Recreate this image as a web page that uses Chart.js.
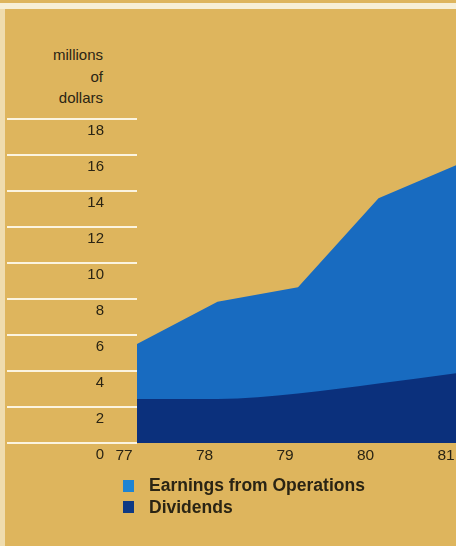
<!DOCTYPE html>
<html>
<head>
<meta charset="utf-8">
<script src="https://cdn.jsdelivr.net/npm/chart.js@4/dist/chart.umd.min.js"></script>
<style>
  html, body { margin: 0; padding: 0; }
  body { width: 456px; height: 546px; background: #deb55d; position: relative; overflow: hidden;
         font-family: "Liberation Sans", Arial, Helvetica, sans-serif; color: #2a2414; }
  #topstrip { position: absolute; left: 0; top: 3px; width: 456px; height: 6px; background: #f7efd6; }
  #leftstrip { position: absolute; left: 0; top: 9px; width: 5px; height: 537px; background: #efdcae; }
  #unit { position: absolute; right: 353px; top: 44px; text-align: right; font-size: 15px; line-height: 21.5px; }
  #c { position: absolute; left: 0; top: 0; }
  #legend { position: absolute; left: 123px; top: 475px; font-weight: bold; font-size: 17.5px; }
  #legend .item { display: flex; align-items: center; height: 21.5px; }
  #legend .box { width: 11px; height: 12px; margin-right: 15px; }
</style>
</head>
<body>
<div id="topstrip"></div>
<div id="leftstrip"></div>
<div id="unit">millions<br>of<br>dollars</div>
<canvas id="c" width="456" height="546"></canvas>
<div id="legend"></div>
<script>
// ---- data ----
const years = [77, 78, 79, 80, 81];
const yearLabels = ['77', '78', '79', '80', '81'];
const earnings = [5.5, 7.85, 8.65, 13.6, 15.5];
const dividends = [2.45, 2.45, 2.75, 3.3, 3.9];
const yTicks = [0, 2, 4, 6, 8, 10, 12, 14, 16, 18];

const seriesNames = ['Earnings from Operations', 'Dividends'];
const seriesColors = ['#186bc0', '#0b307c'];
const legendColors = ['#1f84d2', '#0f3a84'];

const toPts = (vals) => vals.map((v, i) => ({ x: years[i], y: v }));

const chart = new Chart(document.getElementById('c'), {
  type: 'line',
  data: {
    datasets: [
      {
        label: seriesNames[0],
        data: toPts(earnings),
        backgroundColor: seriesColors[0],
        borderWidth: 0,
        pointRadius: 0,
        fill: 'origin',
        tension: 0,
        order: 2
      },
      {
        label: seriesNames[1],
        data: toPts(dividends),
        backgroundColor: seriesColors[1],
        borderWidth: 0,
        pointRadius: 0,
        fill: 'origin',
        tension: 0.35,
        cubicInterpolationMode: 'monotone',
        order: 1
      }
    ]
  },
  options: {
    responsive: false,
    animation: false,
    layout: { padding: { top: 119, left: 0, right: 0, bottom: 0 } },
    plugins: { legend: { display: false }, tooltip: { enabled: false } },
    scales: {
      x: {
        type: 'linear',
        min: years[0],
        max: years[0] + (456 - 137) / 80.5,
        afterBuildTicks: (s) => { s.ticks = years.map(v => ({ value: v })); },
        afterFit: (s) => { s.height = 103; s.paddingLeft = 0; s.paddingRight = 0; },
        grid: { display: false, drawTicks: false },
        border: { display: false },
        ticks: {
          autoSkip: false,
          padding: 3,
          labelOffset: -13,
          color: '#2a2414',
          font: { family: '"Liberation Sans", Arial, sans-serif', size: 15.5 },
          callback: (v) => yearLabels[years.indexOf(v)]
        }
      },
      y: {
        min: 0,
        max: 18,
        afterBuildTicks: (s) => { s.ticks = yTicks.map(v => ({ value: v })); },
        afterFit: (s) => { s.width = 137; s.paddingTop = 0; s.paddingBottom = 0; },
        grid: {
          drawOnChartArea: false,
          drawTicks: true,
          tickLength: 130,
          color: '#fbf4e0',
          tickColor: '#fbf4e0',
          lineWidth: 2,
          tickWidth: 2
        },
        border: { display: false },
        ticks: {
          padding: -97,
          labelOffset: 12,
          color: '#2a2414',
          font: { family: '"Liberation Sans", Arial, sans-serif', size: 15 },
          callback: (v) => String(v)
        }
      }
    }
  }
});

// HTML legend built from the chart's datasets
const lg = document.getElementById('legend');
chart.data.datasets.forEach((ds, i) => {
  const item = document.createElement('div');
  item.className = 'item';
  const box = document.createElement('span');
  box.className = 'box';
  box.style.background = legendColors[i];
  const txt = document.createElement('span');
  txt.textContent = ds.label;
  item.appendChild(box);
  item.appendChild(txt);
  lg.appendChild(item);
});
</script>
</body>
</html>
